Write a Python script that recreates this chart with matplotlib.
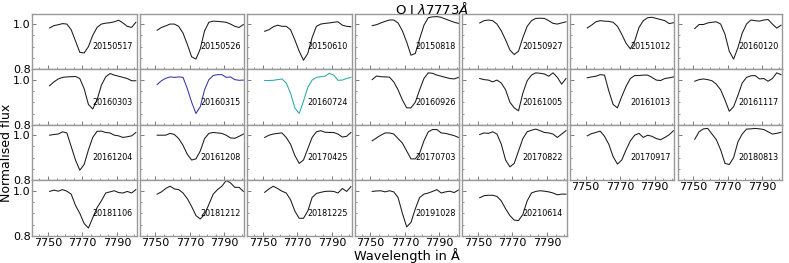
import numpy as np
import matplotlib
matplotlib.use("Agg")
import matplotlib.pyplot as plt
from matplotlib.ticker import MultipleLocator, FixedLocator

# wavelength grid (Angstrom) shared by all spectra
wave = np.linspace(7751, 7801, 21)

dates = ["20150517", "20150526", "20150610", "20150818", "20150927", "20151012", "20160120",
         "20160303", "20160315", "20160724", "20160926", "20161005", "20161013", "20161117",
         "20161204", "20161208", "20170425", "20170703", "20170822", "20170917", "20180813",
         "20181106", "20181212", "20181225", "20191028", "20210614"]

f20150517 = [0.983, 0.993, 0.997, 1.002, 1.000, 0.975, 0.925, 0.875, 0.872, 0.900, 0.950,
             0.985, 1.000, 1.004, 1.006, 1.010, 1.017, 1.005, 0.990, 0.985, 1.008]
f20150526 = [0.973, 0.985, 0.992, 1.000, 1.000, 0.990, 0.960, 0.910, 0.855, 0.845, 0.890,
             0.970, 1.008, 1.013, 1.012, 1.010, 1.008, 1.000, 0.990, 0.985, 0.998]
f20150610 = [0.968, 0.975, 0.988, 0.995, 0.990, 0.990, 0.975, 0.930, 0.880, 0.840, 0.870,
             0.940, 0.990, 1.000, 1.003, 1.005, 1.008, 1.010, 0.995, 0.990, 0.988]
f20150818 = [0.993, 0.997, 1.005, 1.012, 1.018, 1.018, 1.005, 0.970, 0.920, 0.862, 0.870,
             0.935, 0.995, 1.028, 1.032, 1.033, 1.030, 1.022, 1.015, 1.008, 1.003]
f20150927 = [1.005, 1.015, 1.018, 1.015, 1.000, 0.970, 0.930, 0.885, 0.865, 0.880, 0.940,
             0.990, 1.015, 1.025, 1.026, 1.025, 1.015, 1.003, 1.000, 1.005, 1.010]
f20151012 = [0.983, 0.995, 1.010, 1.015, 1.013, 1.012, 1.008, 0.990, 0.955, 0.915, 0.890,
             0.925, 0.985, 1.015, 1.028, 1.030, 1.025, 1.020, 1.015, 1.002, 1.006]
f20160120 = [0.980, 0.998, 0.998, 1.005, 1.008, 1.010, 1.000, 0.955, 0.880, 0.845, 0.895,
             0.960, 1.000, 1.018, 1.015, 1.013, 1.018, 1.020, 1.000, 0.982, 0.995]
f20160303 = [0.973, 0.990, 1.003, 1.010, 1.012, 1.013, 1.014, 1.005, 0.960, 0.890, 0.870,
             0.910, 0.975, 1.012, 1.027, 1.020, 1.015, 1.010, 1.005, 0.995, 0.995]
f20160315 = [0.978, 0.995, 1.006, 1.012, 1.010, 1.012, 1.010, 0.960, 0.900, 0.850, 0.880,
             0.955, 1.000, 1.018, 1.022, 1.022, 1.010, 1.012, 1.000, 0.997, 0.998]
f20160724 = [0.996, 0.996, 0.997, 1.000, 1.003, 0.985, 0.940, 0.875, 0.850, 0.905, 0.965,
             0.998, 1.010, 1.013, 1.015, 1.028, 1.020, 0.997, 0.998, 1.005, 1.010]
f20160926 = [1.000, 1.016, 1.013, 1.012, 1.011, 0.990, 0.955, 0.910, 0.875, 0.875, 0.900,
             0.955, 1.005, 1.030, 1.028, 1.020, 1.015, 1.010, 1.005, 1.003, 1.010]
f20161005 = [1.005, 1.000, 0.998, 0.990, 0.998, 0.985, 0.955, 0.900, 0.875, 0.862, 0.940,
             0.995, 1.020, 1.030, 1.028, 1.025, 1.015, 1.030, 1.010, 0.980, 1.005]
f20161013 = [1.008, 1.012, 1.015, 1.022, 1.020, 0.950, 0.890, 0.875, 0.925, 0.970, 1.005,
             1.018, 1.018, 1.020, 1.020, 1.010, 0.998, 0.996, 1.005, 1.008, 1.012]
f20161117 = [0.993, 1.000, 1.003, 1.000, 0.995, 0.980, 0.955, 0.910, 0.860, 0.880, 0.930,
             0.985, 1.010, 1.017, 1.018, 1.003, 1.005, 0.993, 1.005, 1.030, 1.022]
f20161204 = [1.000, 1.003, 1.005, 1.015, 1.010, 0.950, 0.890, 0.845, 0.870, 0.935, 0.990,
             1.017, 1.018, 1.012, 1.010, 1.000, 0.997, 0.990, 0.993, 0.997, 1.012]
f20161208 = [1.000, 1.000, 1.000, 1.008, 1.003, 0.985, 0.955, 0.915, 0.890, 0.895, 0.930,
             0.985, 1.008, 1.012, 1.010, 1.008, 1.000, 0.988, 0.986, 0.995, 1.005]
f20170425 = [0.990, 1.000, 1.005, 1.008, 1.010, 0.990, 0.960, 0.910, 0.875, 0.890, 0.940,
             0.990, 1.015, 1.020, 1.013, 1.012, 1.012, 1.005, 0.992, 0.995, 1.012]
f20170703 = [0.975, 0.988, 1.000, 1.010, 1.010, 1.005, 0.985, 0.965, 0.930, 0.895, 0.895,
             0.920, 0.975, 1.015, 1.025, 1.025, 1.010, 1.008, 1.003, 0.998, 0.990]
f20170822 = [1.003, 1.010, 1.008, 1.015, 1.005, 0.960, 0.890, 0.860, 0.875, 0.930, 0.985,
             1.015, 1.022, 1.027, 1.020, 1.012, 1.010, 1.005, 0.990, 1.005, 1.020]
f20170917 = [0.997, 1.007, 1.012, 1.018, 0.995, 0.960, 0.905, 0.872, 0.890, 0.935, 0.975,
             1.000, 1.008, 0.990, 1.000, 0.995, 0.985, 0.980, 0.990, 1.002, 1.020]
f20180813 = [0.982, 1.015, 1.028, 1.030, 1.005, 0.980, 0.935, 0.875, 0.870, 0.900, 0.970,
             1.005, 1.027, 1.028, 1.030, 1.028, 1.025, 1.015, 1.005, 1.008, 1.013]
f20181106 = [0.997, 1.003, 0.998, 1.005, 0.998, 0.985, 0.935, 0.900, 0.855, 0.835, 0.880,
             0.925, 0.955, 0.990, 0.995, 1.000, 0.992, 0.990, 0.997, 0.990, 1.005]
f20181212 = [0.985, 0.995, 1.010, 1.020, 1.008, 1.005, 0.990, 0.965, 0.930, 0.890, 0.875,
             0.895, 0.940, 0.985, 1.005, 1.020, 1.045, 1.035, 1.015, 1.015, 0.997]
f20181225 = [0.993, 1.008, 1.020, 1.010, 0.998, 0.990, 0.960, 0.910, 0.878, 0.878, 0.910,
             0.970, 0.988, 0.993, 0.997, 0.998, 0.997, 0.990, 1.010, 0.997, 1.018]
f20191028 = [0.997, 0.999, 1.000, 0.995, 1.000, 0.995, 0.970, 0.900, 0.840, 0.860, 0.920,
             0.970, 0.985, 0.990, 0.997, 1.005, 0.990, 0.995, 0.998, 0.992, 1.003]
f20210614 = [0.969, 0.978, 0.980, 0.980, 0.975, 0.955, 0.920, 0.890, 0.870, 0.868, 0.895,
             0.955, 0.990, 0.997, 1.000, 0.998, 0.995, 0.990, 0.982, 0.985, 0.985]

fluxes = [f20150517, f20150526, f20150610, f20150818, f20150927, f20151012, f20160120,
          f20160303, f20160315, f20160724, f20160926, f20161005, f20161013, f20161117,
          f20161204, f20161208, f20170425, f20170703, f20170822, f20170917, f20180813,
          f20181106, f20181212, f20181225, f20191028, f20210614]

xticks = [7750, 7770, 7790]
colours = {"20160315": "#3535a8", "20160724": "#2aa8a8"}

nrows, ncols = 4, 7
fig, axes = plt.subplots(nrows, ncols, sharex=True, sharey=True, figsize=(7.89, 2.63), dpi=100)
fig.subplots_adjust(left=0.041, right=0.991, top=0.948, bottom=0.103, hspace=0, wspace=0.03)

for i, ax in enumerate(axes.flat):
    if i >= len(dates):
        ax.remove()
        continue
    ax.plot(wave, fluxes[i], color=colours.get(dates[i], "0.1"), lw=0.75)
    ax.text(7776, 0.90, dates[i], fontsize=5.8, va="center", ha="left")
    for s in ax.spines.values():
        s.set_color("0.6")
        s.set_linewidth(1.0)
    ax.tick_params(which="both", direction="in", labelsize=8, color="0.4",
                   top=False, right=False, pad=1.2)
    ax.tick_params(which="major", length=3, width=0.6)
    ax.tick_params(which="minor", length=1.5, width=0.5)

ax0 = axes[0, 0]
ax0.set_xlim(7741, 7801.5)
ax0.set_ylim(0.8, 1.046)
ax0.xaxis.set_major_locator(FixedLocator(xticks))
ax0.xaxis.set_minor_locator(MultipleLocator(5))
ax0.yaxis.set_major_locator(MultipleLocator(0.2))
ax0.yaxis.set_minor_locator(MultipleLocator(0.05))

# panels above the empty slots carry their own x labels
for c in (5, 6):
    axes[2, c].tick_params(labelbottom=True)

fig.text(0.548, 0.997, r"O I $\lambda 7773 \AA$", fontsize=9.5, ha="center", va="top")
fig.text(0.516, 0.0, "Wavelength in Å", fontsize=9.3, ha="center", va="bottom")
fig.text(0.0, 0.42, "Normalised flux", fontsize=9, ha="left", va="center", rotation=90)

fig.savefig("out.png", dpi=100)
